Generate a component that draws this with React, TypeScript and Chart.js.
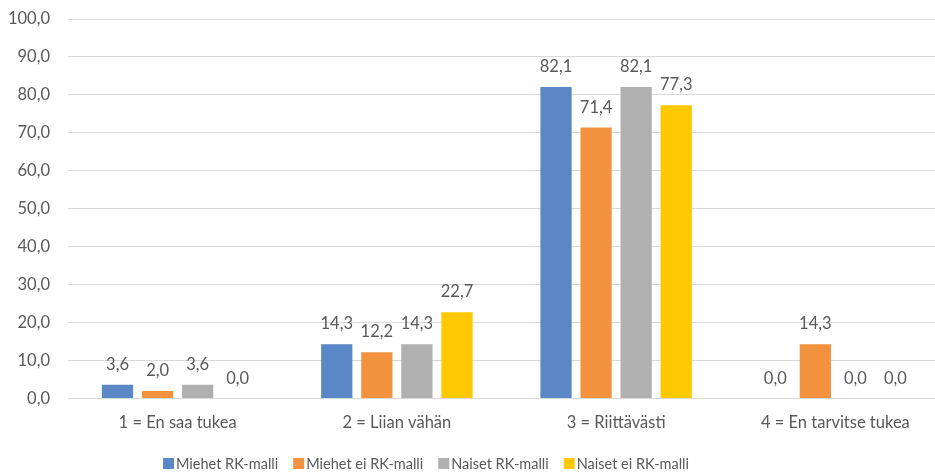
import React, { useEffect, useRef } from "react";
import { Chart, registerables } from "chart.js";

Chart.register(...registerables);

const categories = ["1 = En saa tukea", "2 = Liian vähän", "3 = Riittävästi", "4 = En tarvitse tukea"];
const seriesNames = ["Miehet RK-malli", "Miehet ei RK-malli", "Naiset RK-malli", "Naiset ei RK-malli"];
const miehetRK = [3.6, 14.3, 82.1, 0.0];
const miehetEiRK = [2.0, 12.2, 71.4, 14.3];
const naisetRK = [3.6, 14.3, 82.1, 0.0];
const naisetEiRK = [0.0, 22.7, 77.3, 0.0];
const colors = ["#5a87c6", "#f2923f", "#b0b0b0", "#ffc800"];

const FONT = "Lato, 'Open Sans', sans-serif";
const TEXT = "#595959";
const FS = 16.5;
const LEGEND_FS = 14.5;

const fmt = (v: number) => v.toFixed(1).replace(".", ",");

const labelPlugin = {
  id: "valueLabels",
  afterDatasetsDraw(chart: any) {
    const ctx = chart.ctx;
    ctx.save();
    ctx.font = `${FS}px ${FONT}`;
    ctx.fillStyle = TEXT;
    ctx.textAlign = "center";
    ctx.textBaseline = "alphabetic";
    chart.data.datasets.forEach((ds: any, i: number) => {
      const meta = chart.getDatasetMeta(i);
      meta.data.forEach((el: any, j: number) => {
        ctx.fillText(fmt(ds.data[j]), el.x, el.y - 15);
      });
    });
    ctx.restore();
  },
};

const legendPlugin = {
  id: "bottomLegend",
  afterDraw(chart: any) {
    const ctx = chart.ctx;
    ctx.save();
    ctx.font = `${LEGEND_FS}px ${FONT}`;
    ctx.textBaseline = "middle";
    ctx.textAlign = "left";
    const y = 464;
    let x = 163;
    chart.data.datasets.forEach((ds: any) => {
      ctx.fillStyle = ds.backgroundColor;
      ctx.fillRect(x, y - 6, 11, 11);
      x += 13;
      ctx.fillStyle = TEXT;
      ctx.fillText(ds.label, x, y);
      x += ctx.measureText(ds.label).width + 15;
    });
    ctx.restore();
  },
};

export default function App() {
  const ref = useRef<HTMLCanvasElement>(null);
  useEffect(() => {
    const all = [miehetRK, miehetEiRK, naisetRK, naisetEiRK];
    const chart = new Chart(ref.current!, {
      type: "bar",
      data: {
        labels: categories,
        datasets: all.map((d, i) => ({
          label: seriesNames[i],
          data: d,
          backgroundColor: colors[i],
          borderWidth: 0,
          barPercentage: 0.78,
          categoryPercentage: 0.731,
        })),
      },
      options: {
        animation: false,
        responsive: true,
        maintainAspectRatio: false,
        layout: { padding: { left: 8, right: 0, top: 19, bottom: 0 } },
        plugins: {
          tooltip: { enabled: false },
          legend: { display: false },
        },
        scales: {
          x: {
            afterFit: (s: any) => { s.height = 75.5; },
            grid: { display: false, drawTicks: false },
            border: { display: false },
            ticks: { color: TEXT, font: { family: FONT, size: FS }, padding: 14 },
          },
          y: {
            min: 0,
            max: 100,
            afterFit: (s: any) => { s.width = 60; },
            grid: { color: "#d9d9d9", lineWidth: 1, drawTicks: true, tickLength: 18, tickColor: "rgba(0,0,0,0)" },
            border: { display: false },
            ticks: {
              stepSize: 10,
              color: TEXT,
              padding: 0,
              font: { family: FONT, size: FS },
              callback: (v: any) => fmt(Number(v)),
            },
          },
        },
      },
      plugins: [labelPlugin, legendPlugin],
    });
    return () => chart.destroy();
  }, []);
  return (
    <div style={{ position: "fixed", left: 0, top: 0, width: 935, height: 474, overflow: "hidden" }}>
      <div style={{ position: "relative", width: 945, height: 474 }}>
        <canvas ref={ref} />
      </div>
    </div>
  );
}
